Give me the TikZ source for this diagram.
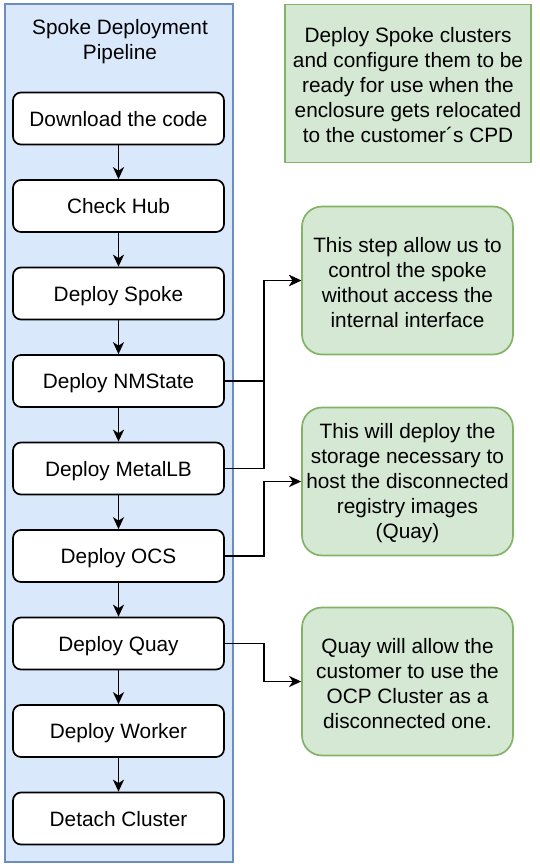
\documentclass[tikz,border=0pt]{standalone}
\usepackage{fontspec}
\setmainfont{Liberation Sans}
\usetikzlibrary{arrows.meta}
\definecolor{pipefill}{HTML}{DAE8FC}
\definecolor{pipeline}{HTML}{6C8EBF}
\definecolor{notefill}{HTML}{D5E8D4}
\definecolor{noteline}{HTML}{82B366}
\begin{document}
\begin{tikzpicture}[x=1pt,y=-1pt,
  every node/.style={font=\fontsize{20.8}{25}\selectfont, align=center, inner sep=0pt},
  stepbox/.style={draw=black, fill=white, line width=1.7pt, rounded corners=8pt,
    minimum width=211pt, minimum height=52pt, text height=15.5pt, text depth=0pt},
  notebox/.style={draw=noteline, fill=notefill, line width=1.7pt, rounded corners=20pt,
    minimum width=211pt, minimum height=148pt},
  notetext/.style={yshift=-2pt},
  flow/.style={line width=1.7pt, -{Stealth[length=12pt,width=11pt,inset=3.5pt]}}
]
\useasboundingbox (0,0) rectangle (539,868);
% container
\node[draw=pipeline, fill=pipefill, line width=1.7pt, minimum width=228pt, minimum height=858pt] (pipe) at (119,433) {};
\node (title) at (120,42) {Spoke Deployment\\Pipeline};
% top note
\node[draw=noteline, fill=notefill, line width=1.7pt, minimum width=246pt, minimum height=158pt,
  label={[notetext]center:Deploy Spoke clusters\\and configure them to be\\ready for use when the\\enclosure gets relocated\\to the customer´s CPD}] (goal) at (408,83.5) {};
% steps
\node[stepbox] (s1) at (118.5,118.5) {Download the code};
\node[stepbox] (s2) at (118.5,206) {Check Hub};
\node[stepbox] (s3) at (118.5,293.5) {Deploy Spoke};
\node[stepbox] (s4) at (118.5,381) {Deploy NMState};
\node[stepbox] (s5) at (118.5,468.5) {Deploy MetalLB};
\node[stepbox] (s6) at (118.5,556) {Deploy OCS};
\node[stepbox] (s7) at (118.5,643.5) {Deploy Quay};
\node[stepbox] (s8) at (118.5,731) {Deploy Worker};
\node[stepbox] (s9) at (118.5,818.5) {Detach Cluster};
% notes
\node[notebox, label={[notetext]center:This step allow us to\\control the spoke\\without access the\\internal interface}] (n1) at (407.5,280.5) {};
\node[notebox, label={[notetext]center:This will deploy the\\storage necessary to\\host the disconnected\\registry images\\(Quay)}] (n2) at (407.5,481.5) {};
\node[notebox, label={[notetext]center:Quay will allow the\\customer to use the\\OCP Cluster as a\\disconnected one.}] (n3) at (407.5,681.5) {};
% flow arrows
\foreach \a/\b in {s1/s2,s2/s3,s3/s4,s4/s5,s5/s6,s6/s7,s7/s8,s8/s9}
  \draw[flow] (\a.south) -- (\b.north);
% side connectors
\draw[flow] (s4.east) -- ++(39,0) |- (n1.west);
\draw[flow] (s5.east) -- ++(39,0) |- (n1.west);
\draw[flow] (s6.east) -- ++(39,0) |- (n2.west);
\draw[flow] (s7.east) -- ++(39,0) |- (n3.west);
\end{tikzpicture}
\end{document}
